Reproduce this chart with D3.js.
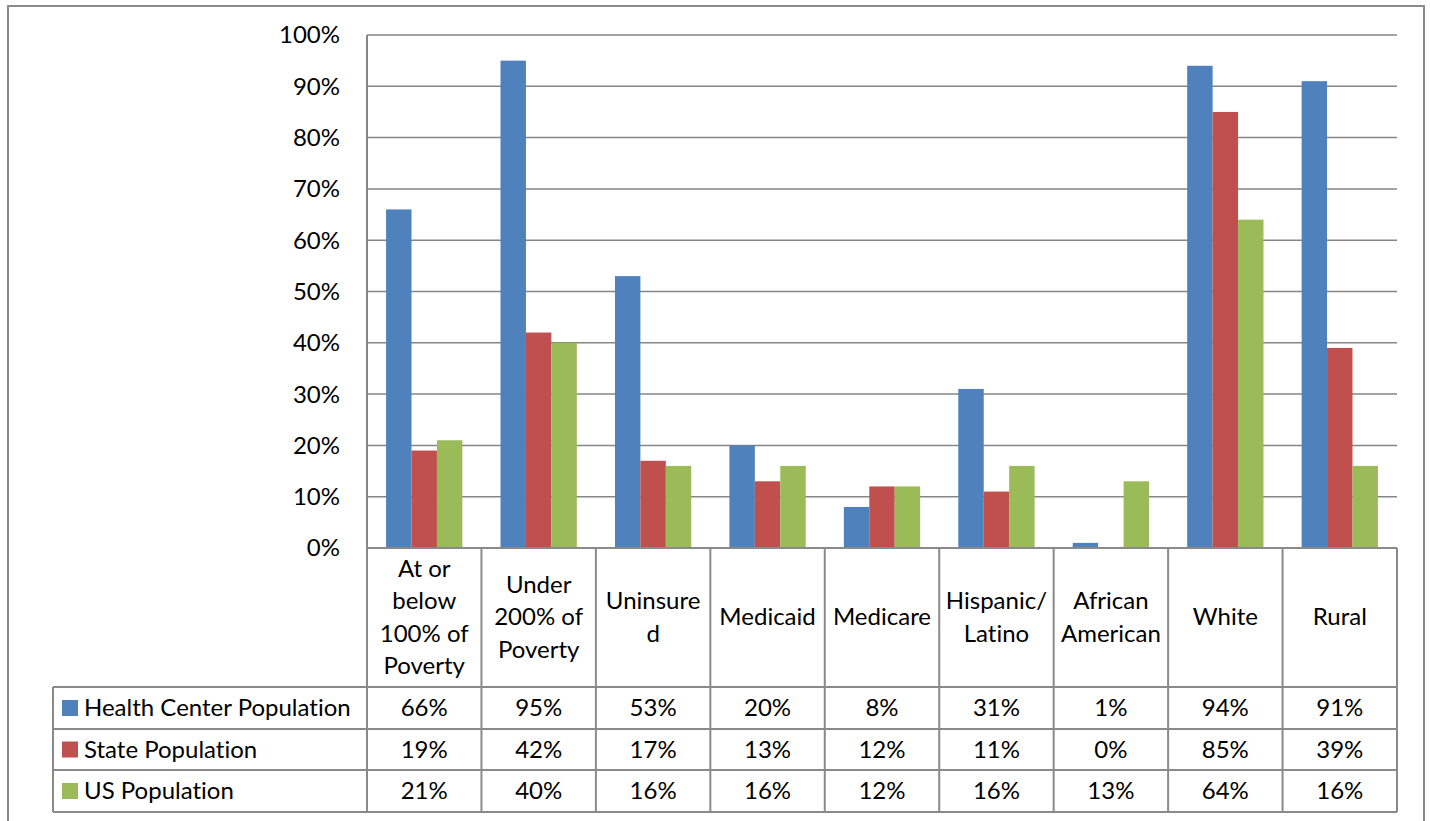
<!DOCTYPE html>
<html><head><meta charset="utf-8">
<script src="https://cdn.jsdelivr.net/npm/d3@7"></script>
<style>body{margin:0;background:#fff}svg{display:block}text{font-family:Lato,"Open Sans",sans-serif;fill:#000;font-variant-ligatures:none;font-feature-settings:"liga" 0}</style>
</head><body>
<svg id="c" width="1430" height="821"></svg>
<script>
const categories = [
  ["At or","below","100% of","Poverty"],
  ["Under","200% of","Poverty"],
  ["Uninsure","d"],
  ["Medicaid"],
  ["Medicare"],
  ["Hispanic/","Latino"],
  ["African","American"],
  ["White"],
  ["Rural"]
];
const seriesNames = ["Health Center Population","State Population","US Population"];
const healthCenter = [66,95,53,20,8,31,1,94,91];
const statePop = [19,42,17,13,12,11,0,85,39];
const usPop = [21,40,16,16,12,16,13,64,16];
const yTicks = [0,10,20,30,40,50,60,70,80,90,100];
const colors = ["#4F81BD","#C0504D","#9BBB59"];

const series = [healthCenter, statePop, usPop];
const svg = d3.select("#c");
const L = 367, R = 1397, T = 35, B = 548;
const tableLeft = 53;
const rowLines = [548, 687, 729, 770, 812];
const grid = "#868686";
const FS = 24;

// outer frame
svg.append("path").attr("d","M8,821 L8,6 L1424,6 L1424,821").attr("fill","none").attr("stroke","#8a8a8a").attr("stroke-width",2);

const x = d3.scaleBand().domain(d3.range(categories.length)).range([L,R]);
const bw = x.bandwidth()/4.5;
const y = d3.scaleLinear().domain([0,100]).range([B,T]);

// gridlines
svg.append("g").selectAll("line").data(yTicks).join("line")
  .attr("x1",L).attr("x2",R).attr("y1",d=>y(d)).attr("y2",d=>y(d))
  .attr("stroke",grid).attr("stroke-width",1.5);
svg.append("line").attr("x1",L).attr("x2",L).attr("y1",T).attr("y2",B).attr("stroke",grid).attr("stroke-width",2);

// y labels
svg.append("g").selectAll("text").data(yTicks).join("text")
  .attr("x",340).attr("y",d=>y(d)).attr("dy","0.35em").attr("text-anchor","end")
  .attr("font-size",FS).text(d=>d+"%");

// bars
series.forEach((vals,si)=>{
  svg.append("g").selectAll("rect").data(vals).join("rect")
    .attr("x",(d,i)=>x(i)+bw*0.75+si*bw)
    .attr("width",bw)
    .attr("y",d=>y(d)).attr("height",d=>B-y(d))
    .attr("fill",colors[si]);
});

// table lines
const tg = svg.append("g").attr("stroke","#8a8a8a").attr("stroke-width",2);
tg.append("line").attr("x1",L).attr("x2",R).attr("y1",rowLines[0]).attr("y2",rowLines[0]);
rowLines.slice(1).forEach(yy=>tg.append("line").attr("x1",tableLeft).attr("x2",R).attr("y1",yy).attr("y2",yy));
d3.range(categories.length+1).forEach(i=>{
  const xx = i<categories.length ? x(i) : R;
  tg.append("line").attr("x1",xx).attr("x2",xx).attr("y1",rowLines[0]).attr("y2",rowLines[4]);
});
tg.append("line").attr("x1",tableLeft).attr("x2",tableLeft).attr("y1",rowLines[1]).attr("y2",rowLines[4]);

// category labels
const lh = 32.5, cy = 617;
categories.forEach((lines,i)=>{
  const t = svg.append("text").attr("text-anchor","middle").attr("font-size",FS);
  lines.forEach((ln,k)=>{
    t.append("tspan").attr("x",x(i)+x.bandwidth()/2)
     .attr("y",cy+(k-(lines.length-1)/2)*lh).attr("dy","0.35em").text(ln);
  });
});

// series rows
series.forEach((vals,si)=>{
  const rc = (rowLines[si+1]+rowLines[si+2])/2;
  svg.append("rect").attr("x",62).attr("y",rc-8).attr("width",16).attr("height",16).attr("fill",colors[si]);
  svg.append("text").attr("x",84).attr("y",rc).attr("dy","0.35em").attr("font-size",FS).text(seriesNames[si]);
  svg.append("g").selectAll("text").data(vals).join("text")
    .attr("x",(d,i)=>x(i)+x.bandwidth()/2).attr("y",rc).attr("dy","0.35em")
    .attr("text-anchor","middle").attr("font-size",FS).text(d=>d+"%");
});
</script>
</body></html>
